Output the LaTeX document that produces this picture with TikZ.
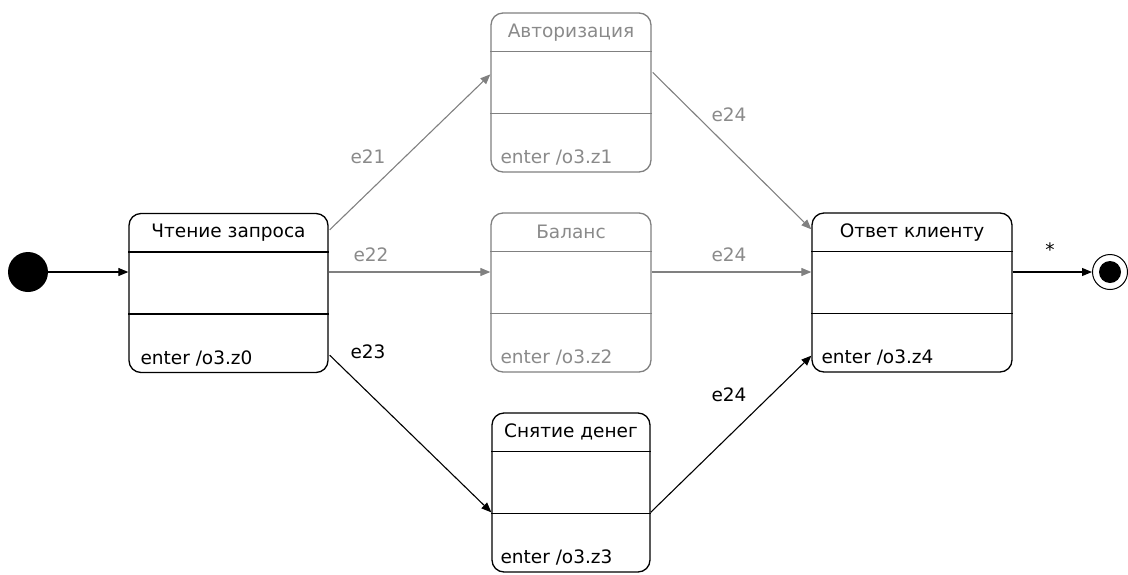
\documentclass[tikz,border=0pt]{standalone}
\usepackage{fontspec}
\setmainfont{DejaVu Sans}
\usetikzlibrary{arrows.meta,calc}
\definecolor{gline}{RGB}{128,128,128}
\definecolor{gtext}{RGB}{138,138,138}
\begin{document}
\begin{tikzpicture}[x=1pt,y=-1pt,
  every node/.style={font=\fontsize{18.5}{22}\selectfont},
  state/.style={draw, rounded corners=12pt, line width=1.3pt, minimum width=#1, minimum height=159pt, inner sep=0pt},
  gstate/.style={state=#1, draw=gline},
  divider/.style={line width=1.3pt},
  txt/.style={inner sep=0pt},
  entertxt/.style={inner sep=0pt, anchor=west},
  trans/.style={line width=1.1pt, -{Triangle[length=10pt,width=8pt]}},
  gtrans/.style={trans, draw=gline, color=gline},
  lbl/.style={inner sep=0pt},
  glbl/.style={lbl, text=gtext}
]
\useasboundingbox (0,0) rectangle (1128,574);

% states
\node[state=199pt] (s0) at (228.5,293) {};
\node[gstate=160pt] (auth) at (571,92.5) {};
\node[gstate=160pt] (bal) at (571,292.5) {};
\node[state=158pt] (cash) at (571,492.5) {};
\node[state=200pt] (ans) at (912,292.5) {};

% dividers
\foreach \n/\c in {s0/black, auth/gline, bal/gline, cash/black, ans/black}{
  \draw[divider, draw=\c] ($(\n.north west)+(0,39)$) -- ($(\n.north east)+(0,39)$);
  \draw[divider, draw=\c] ($(\n.north west)+(0,101)$) -- ($(\n.north east)+(0,101)$);
}

% headers
\node[txt] (s0h) at ($(s0.north)+(0,20)$) {Чтение запроса};
\node[txt, text=gtext] (authh) at ($(auth.north)+(0,20)$) {Авторизация};
\node[txt, text=gtext] (balh) at ($(bal.north)+(0,20)$) {Баланс};
\node[txt] (cashh) at ($(cash.north)+(0,20)$) {Снятие денег};
\node[txt] (ansh) at ($(ans.north)+(0,20)$) {Ответ клиенту};

% enter actions
\node[entertxt] (s0e) at ($(s0.south west)+(12,-15)$) {enter /o3.z0};
\node[entertxt, text=gtext] (authe) at ($(auth.south west)+(10,-15)$) {enter /o3.z1};
\node[entertxt, text=gtext] (bale) at ($(bal.south west)+(10,-15)$) {enter /o3.z2};
\node[entertxt] (cashe) at ($(cash.south west)+(9,-15)$) {enter /o3.z3};
\node[entertxt] (anse) at ($(ans.south west)+(10,-15)$) {enter /o3.z4};

% initial and final pseudo-states
\node[circle, fill=black, minimum size=40pt, inner sep=0pt] (init) at (28,272) {};
\node[circle, draw=black, line width=1pt, minimum size=35pt, inner sep=0pt] (fin) at (1110,272) {};
\node[circle, fill=black, minimum size=22pt, inner sep=0pt] (finin) at (fin.center) {};

% connection points
\coordinate (c21a) at ($(s0.north east)+(1,17)$);
\coordinate (c21b) at ($(auth.north west)+(0,62)$);
\coordinate (c23a) at ($(s0.south east)+(1,-18)$);
\coordinate (c23b) at ($(cash.north west)+(0,100)$);
\coordinate (c24a) at ($(auth.north east)+(1,60)$);
\coordinate (c24b) at ($(ans.north west)+(0,17)$);
\coordinate (c24c) at ($(cash.north east)+(0,100)$);
\coordinate (c24d) at ($(ans.south west)+(0,-17)$);

% transitions
\draw[trans] (init) -- (init -| s0.west);
\draw[gtrans] (c21a) -- (c21b);
\draw[gtrans] (init -| s0.east) -- (init -| bal.west);
\draw[trans] (c23a) -- (c23b);
\draw[gtrans] (c24a) -- (c24b);
\draw[gtrans] (init -| bal.east) -- (init -| ans.west);
\draw[trans] (c24c) -- (c24d);
\draw[trans] (init -| ans.east) -- (fin.west);

% labels
\node[glbl] (l21) at (368,157) {e21};
\node[glbl] (l22) at (371,255) {e22};
\node[lbl] (l23) at (368,352) {e23};
\node[glbl] (l24a) at (729,115) {e24};
\node[glbl] (l24b) at (729,255) {e24};
\node[lbl] (l24c) at (729,395) {e24};
\node[lbl] (lstar) at (1050,250) {*};
\end{tikzpicture}
\end{document}
